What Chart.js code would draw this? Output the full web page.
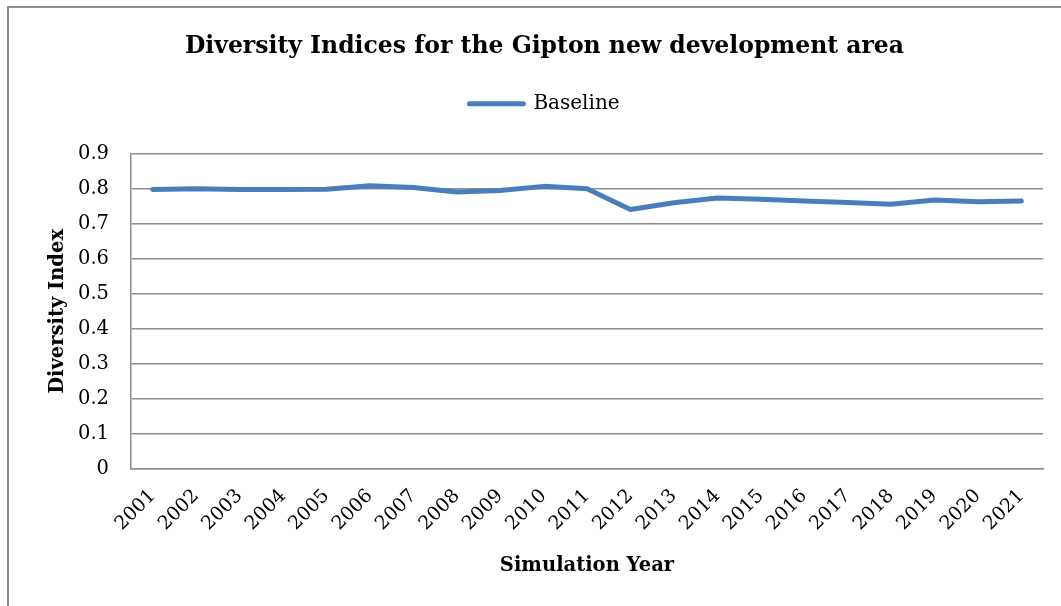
<!DOCTYPE html>
<html>
<head>
<meta charset="utf-8">
<script src="https://cdn.jsdelivr.net/npm/chart.js@4"></script>
<style>
  html, body { margin: 0; padding: 0; background: #fff; }
  #wrap { position: relative; width: 1061px; height: 606px; }
  #frame {
    position: absolute; left: 7px; top: 6px; right: -5px; bottom: -5px;
    border-top: 2px solid #8e8e8e; border-left: 2px solid #8e8e8e;
    pointer-events: none;
  }
</style>
</head>
<body>
<div id="wrap">
  <canvas id="chart" width="1061" height="606"></canvas>
  <div id="frame"></div>
</div>
<script>
const years = ["2001", "2002", "2003", "2004", "2005", "2006", "2007", "2008", "2009", "2010", "2011",
  "2012", "2013", "2014", "2015", "2016", "2017", "2018", "2019", "2020", "2021"];
const baseline = [0.798, 0.800, 0.798, 0.798, 0.799, 0.809, 0.804, 0.791, 0.795, 0.807, 0.800,
  0.741, 0.760, 0.774, 0.770, 0.765, 0.761, 0.756, 0.768, 0.763, 0.765];
const yTicks = [0, 0.1, 0.2, 0.3, 0.4, 0.5, 0.6, 0.7, 0.8, 0.9];

const serif = "'DejaVu Serif', 'Liberation Serif', serif";
const gridGray = "#8e8e8e";

new Chart(document.getElementById("chart"), {
  type: "line",
  data: {
    labels: years,
    datasets: [{
      label: "Baseline",
      data: baseline,
      borderColor: "#4A7EBB",
      backgroundColor: "#4A7EBB",
      borderWidth: 5,
      pointRadius: 0,
      tension: 0,
      borderCapStyle: "round",
      borderJoinStyle: "round",
    }],
  },
  options: {
    responsive: false,
    animation: false,
    layout: { padding: { left: 46, right: 18, top: 37, bottom: 0 } },
    plugins: {
      title: {
        display: true,
        text: "Diversity Indices for the Gipton new development area",
        color: "#000",
        font: { family: serif, size: 23.5, weight: "bold", lineHeight: 0.8 },
        padding: { top: 0, bottom: 0 },
      },
      legend: {
        display: true,
        labels: {
          color: "#000",
          font: { family: serif, size: 20 },
          boxWidth: 54,
          boxHeight: 0,
          padding: 38,
        },
      },
      tooltip: { enabled: false },
    },
    scales: {
      x: {
        offset: true,
        grid: { display: false, drawTicks: false, offset: true },
        border: { display: true, color: gridGray, width: 1.5 },
        ticks: {
          color: "#000",
          font: { family: serif, size: 19 },
          maxRotation: 45,
          minRotation: 45,
          padding: 16,
          autoSkip: false,
        },
        title: {
          display: true,
          text: "Simulation Year",
          color: "#000",
          font: { family: serif, size: 19.5, weight: "bold" },
          padding: { top: 0, bottom: 28 },
        },
        afterFit: (s) => { s.height = 137; },
      },
      // empty spacer between the legend and the plot
      gap: {
        type: "category",
        position: "top",
        grid: { display: false, drawTicks: false },
        border: { display: false },
        ticks: { display: false },
        afterFit: (s) => { s.height = 30; },
      },
      y: {
        min: 0,
        max: 0.9,
        afterBuildTicks: (s) => { s.ticks = yTicks.map((v) => ({ value: v })); },
        grid: { color: gridGray, lineWidth: 1.5, drawTicks: false },
        border: { display: true, color: gridGray, width: 1.5 },
        ticks: {
          color: "#000",
          font: { family: serif, size: 19.5 },
          padding: 22,
          callback: (v) => String(v),
        },
        title: {
          display: true,
          text: "Diversity Index",
          color: "#000",
          font: { family: serif, size: 19.5, weight: "bold" },
          padding: { top: 0, bottom: 0 },
        },
        afterFit: (s) => { s.width = 85; },
      },
    },
  },
});
</script>
</body>
</html>
